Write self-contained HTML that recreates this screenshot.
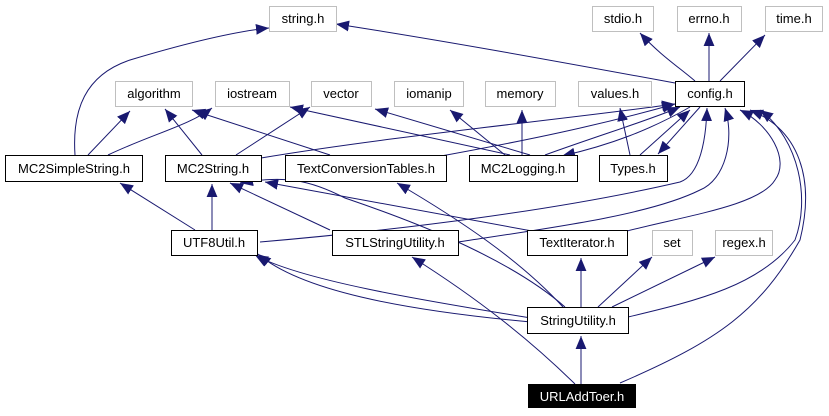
<!DOCTYPE html>
<html><head><style>
body{margin:0;background:#fff;width:829px;height:411px;overflow:hidden}
svg text{font-family:"Liberation Sans",sans-serif;font-size:13px;text-anchor:middle}
</style></head><body>
<svg width="829" height="411" viewBox="0 0 829 411" xmlns="http://www.w3.org/2000/svg">
<defs><marker id="a" viewBox="0 0 12 10" refX="12" refY="5" markerWidth="13" markerHeight="11" markerUnits="userSpaceOnUse" orient="auto"><path d="M0,0L12,5L0,10z" fill="#191970"/></marker></defs>
<g fill="none" stroke="#191970" stroke-width="1" marker-end="url(#a)">
<path d="M75,155C72,110 85,75 130,60C180,45 230,32 269,28"/>
<path d="M88,155L130,111"/>
<path d="M108,155C150,135 190,125 212,108"/>
<path d="M202,155L165,109"/>
<path d="M236,155L310,107"/>
<path d="M261,158C400,135 560,120 675,104"/>
<path d="M330,155L192,110"/>
<path d="M430,158C530,140 600,125 675,104"/>
<path d="M510,155L290,107"/>
<path d="M530,155L375,109"/>
<path d="M505,155L450,110"/>
<path d="M522,155L522,110"/>
<path d="M545,155C600,135 650,120 680,107"/>
<path d="M690,107C650,130 610,145 562,156"/>
<path d="M630,155L620,108"/>
<path d="M640,155L690,110"/>
<path d="M700,107L658,154"/>
<path d="M675,83C550,60 440,40 336,24"/>
<path d="M695,81C680,68 660,55 640,33"/>
<path d="M709,81L709,33"/>
<path d="M720,81L765,35"/>
<path d="M260,242C400,230 560,210 680,182C700,175 706,140 707,108"/>
<path d="M458,242C550,228 650,215 700,190C725,180 735,140 725,108"/>
<path d="M627,231C690,215 760,205 775,180C790,160 770,125 740,110"/>
<path d="M628,317C700,300 760,285 795,240C810,200 800,140 760,110"/>
<path d="M620,383C720,340 760,310 800,240C815,180 800,130 750,110"/>
<path d="M195,230L120,183"/>
<path d="M212,230L212,184"/>
<path d="M330,230L230,183"/>
<path d="M532,231L265,182"/>
<path d="M531,318C420,300 300,280 255,255"/>
<path d="M531,322C400,310 300,290 258,254"/>
<path d="M565,307C500,250 380,210 345,198C310,180 285,175 240,183"/>
<path d="M563,307C520,260 460,220 397,183"/>
<path d="M581,307L581,258"/>
<path d="M598,307L652,257"/>
<path d="M612,307L715,257"/>
<path d="M575,384C530,340 480,300 412,257"/>
<path d="M581,384L581,336"/>
</g>
<g fill="#fff" stroke="#bfbfbf">
<rect x="269.5" y="6.5" width="67" height="25"/>
<rect x="592.5" y="6.5" width="61" height="25"/>
<rect x="677.5" y="6.5" width="64" height="25"/>
<rect x="765.5" y="6.5" width="57" height="25"/>
<rect x="115.5" y="81.5" width="77" height="25"/>
<rect x="215.5" y="81.5" width="74" height="25"/>
<rect x="311.5" y="81.5" width="60" height="25"/>
<rect x="394.5" y="81.5" width="69" height="25"/>
<rect x="485.5" y="81.5" width="70" height="25"/>
<rect x="578.5" y="81.5" width="73" height="25"/>
<rect x="652.5" y="230.5" width="40" height="25"/>
<rect x="715.5" y="230.5" width="57" height="25"/>
</g>
<g fill="#fff" stroke="#000">
<rect x="675.5" y="81.5" width="69" height="25"/>
<rect x="5.5" y="155.5" width="137" height="26"/>
<rect x="165.5" y="155.5" width="96" height="26"/>
<rect x="285.5" y="155.5" width="161" height="26"/>
<rect x="469.5" y="155.5" width="108" height="26"/>
<rect x="599.5" y="155.5" width="68" height="26"/>
<rect x="171.5" y="230.5" width="86" height="25"/>
<rect x="332.5" y="230.5" width="126" height="25"/>
<rect x="527.5" y="230.5" width="100" height="25"/>
<rect x="527.5" y="307.5" width="101" height="26"/>
</g>
<rect x="528" y="384" width="108" height="24" fill="#000"/>
<g fill="#000">
<text x="303" y="23">string.h</text>
<text x="623" y="23">stdio.h</text>
<text x="709" y="23">errno.h</text>
<text x="794" y="23">time.h</text>
<text x="154" y="98">algorithm</text>
<text x="252" y="98">iostream</text>
<text x="341" y="98">vector</text>
<text x="429" y="98">iomanip</text>
<text x="520" y="98">memory</text>
<text x="615" y="98">values.h</text>
<text x="710" y="98">config.h</text>
<text x="74" y="173">MC2SimpleString.h</text>
<text x="213" y="173">MC2String.h</text>
<text x="366" y="173">TextConversionTables.h</text>
<text x="523" y="173">MC2Logging.h</text>
<text x="633" y="173">Types.h</text>
<text x="214" y="247">UTF8Util.h</text>
<text x="395" y="247">STLStringUtility.h</text>
<text x="577" y="247">TextIterator.h</text>
<text x="672" y="247">set</text>
<text x="744" y="247">regex.h</text>
<text x="578" y="325">StringUtility.h</text>
<text x="582" y="401" fill="#fff">URLAddToer.h</text>
</g>
</svg>
</body></html>
